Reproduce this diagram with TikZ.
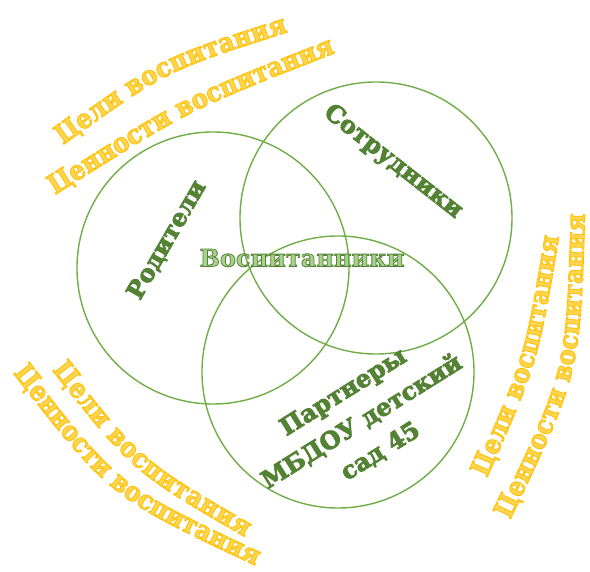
\documentclass[tikz,border=0pt]{standalone}
\usepackage{fontspec}
\setmainfont{DejaVu Serif}
\newfontfamily\goalface{DejaVu Serif Condensed}
\usepackage{tikz}
\usetikzlibrary{decorations.text, positioning}
\usepackage{xcolor}
\definecolor{ringgreen}{HTML}{70AD47}
\definecolor{labelgreen}{HTML}{548235}
\definecolor{palegreen}{HTML}{A9D18E}
\definecolor{goalorange}{HTML}{FFC000}
\definecolor{paleorange}{HTML}{FFD54F}
% outlined letters: stroke colour given as r g b
\newcommand{\outlineon}[1]{\special{pdf:literal direct #1 RG 2 Tr 0.8 w}}
\newcommand{\outlineoff}{\special{pdf:literal direct 0 Tr}}
\newcommand{\goalfont}{\goalface\fontsize{27}{27}\selectfont\bfseries\color{paleorange}\outlineon{1 0.753 0}}
\tikzset{%
	ring/.style={
		circle,
		draw=ringgreen,
		line width=1.4pt,
		minimum size=272pt,
		inner sep=0pt
	},
	group label/.style={
		text=labelgreen,
		font=\bfseries\fontsize{24}{35}\selectfont,
		align=center,
		execute at begin node=\outlineon{0.329 0.510 0.208},
		execute at end node=\outlineoff
	},
	goal line/.style={
		decorate,
		decoration={text along path, text align={fit to path}, text={|\goalfont|#1}}
	},
}

\begin{document}
\begin{tikzpicture}[x=1pt,y=1pt]
			\useasboundingbox (0,0) rectangle (590,572);
			
			% Draw the three circles
			\node[ring] (parents) at (213,304) {};
			\node[ring] (staff) at (376,354) {};
			\node[ring] (partners) at (338,200) {};
			
			% Labels of the circles
			\node[group label, rotate=60] (parentslabel) at (167,332) {Родители};
			\node[group label, rotate=-38] (stafflabel) at (393,410) {Сотрудники};
			\node[group label, rotate=32] (partnerslabel) at (362,150) {Партнеры\\МБДОУ детский\\сад 45};
			\node[group label, text=palegreen] (pupils) at (302,314) {\outlineon{0.329 0.510 0.208}Воспитанники};
			
			% Goals and values round the circles
			\begin{scope}
				\path[goal line=Цели воспитания] (63,427) .. controls (166,501) .. (288,540);
				\path[goal line=Ценности воспитания] (55,377) .. controls (189,462) .. (335,519);
			\end{scope}
			\begin{scope}
				\path[goal line=Цели воспитания] (52,202) .. controls (133,100) .. (245,35);
				\path[goal line=Ценности воспитания] (13,199) .. controls (110,75) .. (252,8);
			\end{scope}
			\begin{scope}
				\path[goal line=Цели воспитания] (487,94) .. controls (538,210) .. (559,335);
				\path[goal line=Ценности воспитания] (510,52) .. controls (580,198) .. (585,358);
			\end{scope}
			
		\end{tikzpicture}
\end{document}
